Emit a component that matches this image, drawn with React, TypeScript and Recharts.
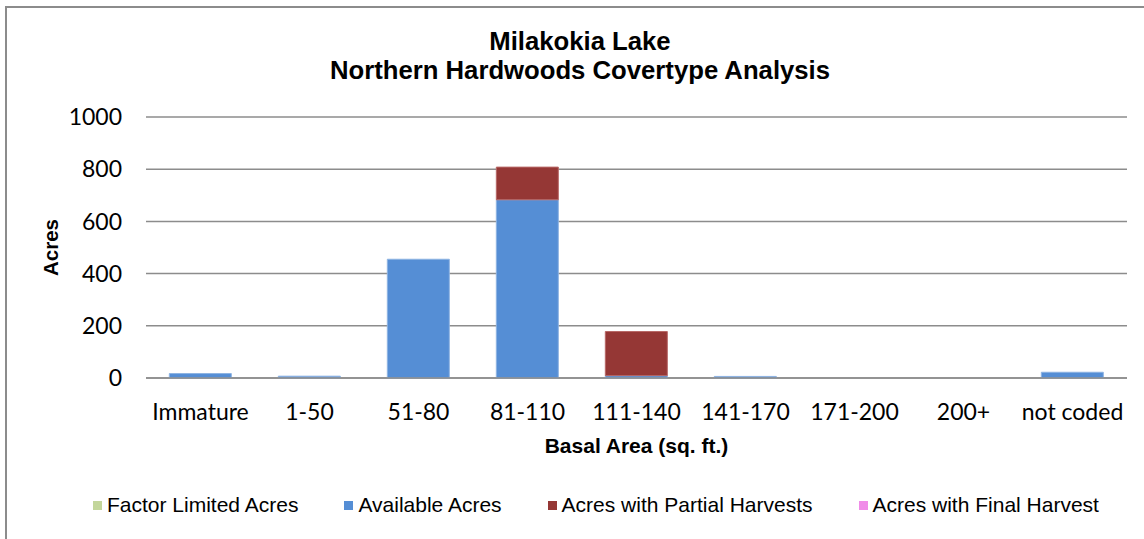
import React from 'react';
import { BarChart, Bar, XAxis, YAxis, CartesianGrid, Label } from 'recharts';

// Basal area classes along the x axis
const categories = ['Immature', '1-50', '51-80', '81-110', '111-140', '141-170', '171-200', '200+', 'not coded'];

// Acres per class
const factorLimited = [0, 0, 0, 0, 0, 0, 0, 0, 0];
const available = [17, 7, 455, 683, 9, 6, 0, 0, 22];
const partialHarvest = [0, 0, 0, 125, 169, 0, 0, 0, 0];
const finalHarvest = [0, 0, 0, 0, 0, 0, 0, 0, 0];

const yTicks = [0, 200, 400, 600, 800, 1000];

const series = [
  { key: 'factor', name: 'Factor Limited Acres', values: factorLimited, fill: '#c3d69b', stroke: '#d7e4bd' },
  { key: 'available', name: 'Available Acres', values: available, fill: '#558ed5', stroke: '#8db3e2' },
  { key: 'partial', name: 'Acres with Partial Harvests', values: partialHarvest, fill: '#953735', stroke: '#b76866' },
  { key: 'final', name: 'Acres with Final Harvest', values: finalHarvest, fill: '#f08ce8', stroke: '#f5b5f0' },
];

const data = categories.map((name, i) => {
  const row: Record<string, string | number> = { name };
  series.forEach(s => {
    row[s.key] = s.values[i];
  });
  return row;
});

const GRID = '#8c8c8c';
const ARIAL = 'Arial, "Liberation Sans", sans-serif';
const tickFont = { fontFamily: 'Lato', fontSize: 23, fill: '#000' };

export default function App() {
  return (
    <div style={{ position: 'absolute', left: 0, top: 0, width: 1144, height: 539, background: '#fff', overflow: 'hidden' }}>
      {/* outer chart frame */}
      <div
        style={{
          position: 'absolute',
          left: 5,
          top: 6,
          width: 1160,
          height: 600,
          border: `2px solid ${GRID}`,
          boxSizing: 'border-box',
        }}
      />

      {/* title */}
      <div
        style={{
          position: 'absolute',
          left: 0,
          top: 27,
          width: 1160,
          textAlign: 'center',
          fontFamily: ARIAL,
          fontWeight: 'bold',
          fontSize: 25.7,
          lineHeight: '29px',
          color: '#000',
        }}
      >
        <div>Milakokia Lake</div>
        <div>Northern Hardwoods Covertype Analysis</div>
      </div>

      <div style={{ position: 'absolute', left: 0, top: 0 }}>
        <BarChart
          width={1144}
          height={539}
          data={data}
          margin={{ top: 117, right: 17, bottom: 101, left: 0 }}
          barCategoryGap="21.4%"
        >
          <CartesianGrid vertical={false} stroke={GRID} strokeWidth={1.5} />
          <XAxis
            dataKey="name"
            height={60}
            tickLine={false}
            tickSize={0}
            tickMargin={26}
            axisLine={{ stroke: GRID, strokeWidth: 1.5 }}
            tick={tickFont}
            interval={0}
          >
            <Label
              content={({ viewBox }: any) => (
                <text
                  x={viewBox.x + viewBox.width / 2}
                  y={viewBox.y + 75}
                  textAnchor="middle"
                  fontFamily={ARIAL}
                  fontWeight="bold"
                  fontSize={21}
                  fill="#000"
                >
                  Basal Area (sq. ft.)
                </text>
              )}
            />
          </XAxis>
          <YAxis
            width={146}
            domain={[0, 1000]}
            ticks={yTicks}
            tickLine={false}
            tickSize={0}
            tickMargin={24}
            axisLine={false}
            tick={tickFont}
          >
            <Label
              content={({ viewBox }: any) => {
                const x = viewBox.x + 58;
                const y = viewBox.y + viewBox.height / 2;
                return (
                  <text
                    x={x}
                    y={y}
                    transform={`rotate(-90 ${x} ${y})`}
                    textAnchor="middle"
                    fontFamily={ARIAL}
                    fontWeight="bold"
                    fontSize={20.5}
                    fill="#000"
                  >
                    Acres
                  </text>
                );
              }}
            />
          </YAxis>
          {series.map(s => (
            <Bar
              key={s.key}
              dataKey={s.key}
              name={s.name}
              stackId="acres"
              fill={s.fill}
              stroke={s.stroke}
              strokeWidth={1}
              isAnimationActive={false}
            />
          ))}
        </BarChart>
      </div>

      {/* legend */}
      <div
        style={{
          position: 'absolute',
          left: 93,
          top: 493,
          display: 'flex',
          gap: 46,
          fontFamily: ARIAL,
          fontSize: 21,
          lineHeight: '24px',
          color: '#000',
          whiteSpace: 'nowrap',
        }}
      >
        {series.map(s => (
          <div key={s.key} style={{ display: 'flex', alignItems: 'center' }}>
            <span style={{ display: 'inline-block', width: 9, height: 9, background: s.fill, marginRight: 5 }} />
            <span>{s.name}</span>
          </div>
        ))}
      </div>
    </div>
  );
}
